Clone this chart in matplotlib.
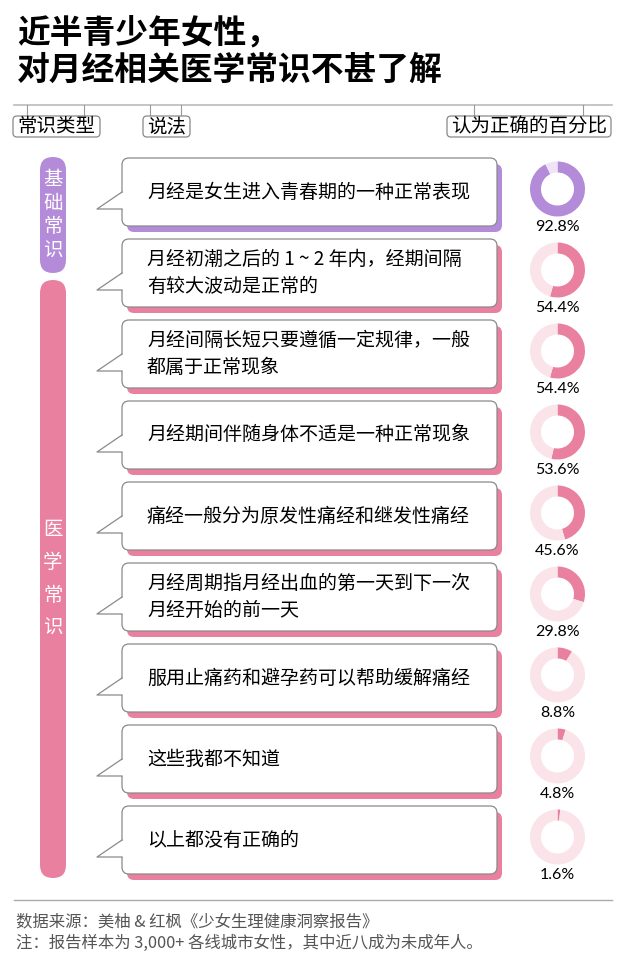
import matplotlib
matplotlib.use("Agg")
import matplotlib.pyplot as plt
from matplotlib.patches import FancyBboxPatch, Polygon

plt.rcParams['font.family'] = ['Noto Sans CJK SC', 'DejaVu Sans']

# data
title_lines = ["近半青少年女性，", "对月经相关医学常识不甚了解"]
headers = ["常识类型", "说法", "认为正确的百分比"]
categories = ["基础常识", "医学常识"]
category_counts = [1, 8]
statements = [
    "月经是女生进入青春期的一种正常表现",
    "月经初潮之后的 1 ~ 2 年内，经期间隔\n有较大波动是正常的",
    "月经间隔长短只要遵循一定规律，一般\n都属于正常现象",
    "月经期间伴随身体不适是一种正常现象",
    "痛经一般分为原发性痛经和继发性痛经",
    "月经周期指月经出血的第一天到下一次\n月经开始的前一天",
    "服用止痛药和避孕药可以帮助缓解痛经",
    "这些我都不知道",
    "以上都没有正确的",
]
percents = [92.8, 54.4, 54.4, 53.6, 45.6, 29.8, 8.8, 4.8, 1.6]
source_lines = ["数据来源：美柚 & 红枫《少女生理健康洞察报告》",
                "注：报告样本为 3,000+ 各线城市女性，其中近八成为未成年人。"]

W, H = 622, 977
purple, purple_bg = "#B48BD8", "#EFE4F7"
pink, pink_bg = "#EA809F", "#FBE3EA"
cat_colors = [purple, pink]
cat_bgs = [purple_bg, pink_bg]

fig = plt.figure(figsize=(W / 100, H / 100), dpi=100)
ax = fig.add_axes([0, 0, 1, 1])
ax.set_xlim(0, W)
ax.set_ylim(H, 0)
ax.axis("off")

# title
ax.text(17, 33, title_lines[0], fontsize=23.6, fontweight="black", va="center", ha="left")
ax.text(17, 70, title_lines[1], fontsize=23.6, fontweight="black", va="center", ha="left")

# header line and boxes
ax.plot([14, 612], [105, 105], color="#bbbbbb", lw=1.2)
header_boxes = [(13, 100), (143, 190), (447, 611)]
header_ticks = [(27, 84), (150, 181), (474, 583)]
for txt, (x0, x1), ticks in zip(headers, header_boxes, header_ticks):
    for tx in ticks:
        ax.plot([tx, tx], [105, 116], color="#999999", lw=0.8)
    ax.add_patch(FancyBboxPatch((x0, 116), x1 - x0, 21,
                                boxstyle="round,pad=0,rounding_size=4",
                                fc="white", ec="#888888", lw=0.9, zorder=3))
    ax.text((x0 + x1) / 2, 126.5, txt, fontsize=14, ha="center", va="center",
            fontweight="medium", zorder=4)

# rows
row_top, row_step, bub_h = 158, 81, 68
bx0, bx1 = 122, 497
row_cat = []
for ci, n in enumerate(category_counts):
    row_cat += [ci] * n

for i, (stmt, pct) in enumerate(zip(statements, percents)):
    top = row_top + row_step * i
    col = cat_colors[row_cat[i]]
    bg = cat_bgs[row_cat[i]]
    # shadow
    ax.add_patch(FancyBboxPatch((bx0 + 5, top + 6), bx1 - bx0, bub_h,
                                boxstyle="round,pad=0,rounding_size=7",
                                fc=col, ec="none", zorder=1))
    # bubble
    ax.add_patch(FancyBboxPatch((bx0, top), bx1 - bx0, bub_h,
                                boxstyle="round,pad=0,rounding_size=7",
                                fc="white", ec="#8a8a8a", lw=0.9, zorder=2))
    ya, yb = top + 34, top + 51
    tip = (97, yb)
    ax.add_patch(Polygon([(bx0 + 1.5, ya), tip, (bx0 + 1.5, yb)],
                         closed=True, fc="white", ec="none", zorder=3))
    ax.plot([bx0, tip[0], bx0], [ya, tip[1], yb], color="#8a8a8a", lw=0.9, zorder=4)
    ax.text(147, top + bub_h / 2, stmt, fontsize=13.7, ha="left", va="center",
            linespacing=1.35, zorder=5)

    # donut
    cy = top + 31
    r = 27.5
    dax = fig.add_axes([(557.5 - r) / W, 1 - (cy + r) / H, 2 * r / W, 2 * r / H])
    dax.pie([pct, 100 - pct], colors=[col, bg], startangle=90, counterclock=False,
            wedgeprops=dict(width=0.4, linewidth=0))
    dax.set_xlim(-1, 1)
    dax.set_ylim(-1, 1)
    dax.set_aspect("equal")
    dax.axis("off")
    ax.text(557.5, cy + 38, f"{pct}%", fontsize=11.5, ha="center", va="center",
            family=["Lato", "DejaVu Sans"])

# category pills
pill_spans = [(157, 273), (280, 878)]
for ci, (cat, n) in enumerate(zip(categories, category_counts)):
    y0, y1 = pill_spans[ci]
    ax.add_patch(FancyBboxPatch((40, y0), 26, y1 - y0,
                                boxstyle="round,pad=0,rounding_size=13",
                                fc=cat_colors[ci], ec="none", zorder=2))
    cy = (y0 + y1) / 2
    gap = 24 if ci == 0 else 33
    for k, ch in enumerate(cat):
        ax.text(53, cy + (k - 1.5) * gap, ch, color="white", fontsize=14,
                ha="center", va="center", zorder=3)

# footer
ax.plot([14, 612], [900, 900], color="#aaaaaa", lw=1)
ax.text(16, 922, source_lines[0], fontsize=11.8, color="#555555", ha="left", va="center")
ax.text(16, 943, source_lines[1], fontsize=11.8, color="#555555", ha="left", va="center")

fig.savefig("out.png", dpi=100)
